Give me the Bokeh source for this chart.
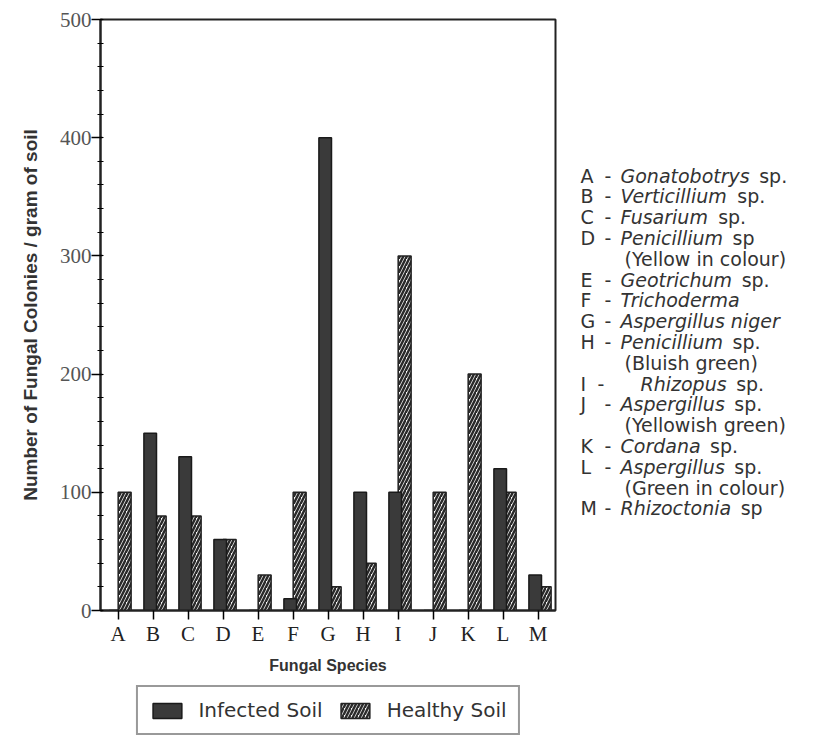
from bokeh.plotting import figure
from bokeh.models import (FactorRange, Range1d, SingleIntervalTicker, Legend,
                          LegendItem, ColumnDataSource)
from bokeh.transform import dodge
from bokeh.layouts import row, column
from bokeh.core.properties import value
from bokeh.embed import file_html
from bokeh.resources import INLINE

# ---------------- data ----------------
categories = list("ABCDEFGHIJKLM")
infected_soil = [0, 150, 130, 60, 0, 10, 400, 100, 100, 0, 0, 120, 30]
healthy_soil = [100, 80, 80, 60, 30, 100, 20, 40, 300, 100, 200, 100, 20]
y_ticks = [0, 100, 200, 300, 400, 500]

species_names = ["Gonatobotrys", "Verticillium", "Fusarium", "Penicillium",
                 "Geotrichum", "Trichoderma", "Aspergillus niger", "Penicillium",
                 "Rhizopus", "Aspergillus", "Cordana", "Aspergillus", "Rhizoctonia"]
species_suffix = ["sp.", "sp.", "sp.", "sp", "sp.", "", "", "sp.", "sp.", "sp.",
                  "sp.", "sp.", "sp"]
species_notes = ["", "", "", "(Yellow in colour)", "", "", "", "(Bluish green)",
                 "", "(Yellowish green)", "", "(Green in colour)", ""]

# ---------------- layout constants ----------------
BL, BR, BT, BB = 100, 13, 19, 72
FRAME_W, FRAME_H = 455, 591
KEY_W = 241
LEG_H = 56

# styles shared by the chart bars and the legend swatches
healthy_style = dict(fill_color="white", line_color="#222222", line_width=1.5,
                     hatch_pattern="/", hatch_color="#2a2a2a", hatch_scale=7,
                     hatch_weight=2.5)
infected_style = dict(fill_color="#3a3a3a", line_color="#1a1a1a", line_width=1.5)

src = ColumnDataSource(dict(cat=categories, infected=infected_soil, healthy=healthy_soil))

p = figure(x_range=FactorRange(factors=categories, range_padding=0),
           y_range=Range1d(0, 500), frame_width=FRAME_W, frame_height=FRAME_H,
           output_backend="svg", toolbar_location=None,
           min_border_left=BL, min_border_right=BR, min_border_top=BT,
           min_border_bottom=BB, background_fill_color="white",
           border_fill_color="white")

rh = p.vbar(x=dodge('cat', 0.19, range=p.x_range), top='healthy', width=0.37,
            source=src, **healthy_style)
ri = p.vbar(x=dodge('cat', -0.08, range=p.x_range), top='infected', width=0.36,
            source=src, **infected_style)

p.xgrid.visible = False
p.ygrid.visible = False
p.outline_line_color = "#222222"
p.outline_line_width = 2

yax = p.yaxis[0]
yax.ticker = SingleIntervalTicker(interval=100, num_minor_ticks=5)
yax.axis_line_width = 2
yax.axis_line_color = "#222222"
yax.major_tick_out = 9
yax.major_tick_in = 2
yax.major_tick_line_width = 1.5
yax.minor_tick_out = 3
yax.minor_tick_in = 3
yax.minor_tick_line_width = 1.2
yax.major_label_text_font = "Liberation Serif"
yax.major_label_text_font_size = "21px"
yax.major_label_text_color = "#555555"
yax.major_label_standoff = 0
yax.axis_label = "Number of Fungal Colonies / gram of soil"
yax.axis_label_text_font = "Liberation Sans"
yax.axis_label_text_font_style = "bold"
yax.axis_label_text_font_size = "19px"
yax.axis_label_text_color = "#333333"
yax.axis_label_standoff = 16

xax = p.xaxis[0]
xax.axis_line_width = 2
xax.axis_line_color = "#222222"
xax.major_tick_out = 9
xax.major_tick_in = 0
xax.major_tick_line_width = 1.5
xax.major_label_text_font = "Liberation Serif"
xax.major_label_text_font_size = "21px"
xax.major_label_text_color = "#222222"
xax.major_label_standoff = 2
xax.axis_label = "Fungal Species"
xax.axis_label_text_font = "Liberation Sans"
xax.axis_label_text_font_style = "bold"
xax.axis_label_text_font_size = "16px"
xax.axis_label_text_color = "#333333"
xax.axis_label_standoff = 8

# ---------------- legend strip below the chart ----------------
# The legend panel re-uses the same data at a tiny scale in the middle of its frame,
# where the opaque legend box covers it, so only the legend swatches show.
lf = figure(frame_width=FRAME_W, frame_height=LEG_H,
            x_range=FactorRange(factors=categories, range_padding=1.0),
            y_range=Range1d(-1100, 1100),
            output_backend="svg", toolbar_location=None,
            min_border_left=BL, min_border_right=BR + KEY_W, min_border_top=0,
            min_border_bottom=0, background_fill_color="white",
            border_fill_color="white")
lf.axis.visible = False
lf.grid.visible = False
lf.outline_line_color = None
li = lf.vbar(x='cat', top='infected', width=0.36, source=src, **infected_style)
lh = lf.vbar(x='cat', top='healthy', width=0.37, source=src, **healthy_style)
legend = Legend(items=[LegendItem(label="Infected Soil", renderers=[li]),
                       LegendItem(label="Healthy Soil", renderers=[lh])],
                orientation="horizontal", location="center",
                label_text_font="DejaVu Sans", label_text_font_size="20px",
                label_text_color="#333333", glyph_width=36, glyph_height=19,
                label_standoff=14, spacing=14, padding=11, margin=0,
                border_line_color="#333333", border_line_width=2,
                background_fill_color="white", background_fill_alpha=1.0)
lf.add_layout(legend, "center")

# ---------------- species key (separate panel, page-pixel coordinates) ----------------
KEY_LEFT = BL + FRAME_W + BR          # page x where the key panel starts
PAGE_TOP, PAGE_BOTTOM = BT, BT + FRAME_H
t = figure(frame_width=KEY_W, frame_height=FRAME_H,
           x_range=Range1d(KEY_LEFT, KEY_LEFT + KEY_W),
           y_range=Range1d(PAGE_BOTTOM, PAGE_TOP),
           output_backend="svg", toolbar_location=None,
           min_border_left=0, min_border_right=0, min_border_top=BT,
           min_border_bottom=BB, background_fill_color="white",
           border_fill_color="white")
t.axis.visible = False
t.grid.visible = False
t.outline_line_color = None

FS = 19
adv = {' ': .318, 'a': .613, 'b': .635, 'c': .550, 'd': .635, 'e': .615, 'f': .352,
       'g': .635, 'h': .634, 'i': .278, 'j': .278, 'k': .579, 'l': .278, 'm': .974,
       'n': .634, 'o': .612, 'p': .635, 'q': .635, 'r': .411, 's': .521, 't': .392,
       'u': .634, 'v': .592, 'w': .818, 'x': .592, 'y': .592, 'z': .525,
       'A': .684, 'C': .698, 'F': .575, 'G': .775, 'P': .603, 'R': .695, 'T': .611,
       'V': .684}

def tw(s):
    return sum(adv.get(ch, .6) for ch in s) * FS

letter_x, dash_x, name_x0 = 580, 604, 620
row_y0, row_dy = 175, 20.8

groups = {k: dict(x=[], y=[], text=[]) for k in ("letter", "dash", "name", "suffix", "note")}
r = 0
for i, letter in enumerate(categories):
    yy = row_y0 + r * row_dy
    groups["letter"]["x"].append(letter_x); groups["letter"]["y"].append(yy)
    groups["letter"]["text"].append(letter)
    groups["dash"]["x"].append(dash_x - (7 if letter == "I" else 0))
    groups["dash"]["y"].append(yy); groups["dash"]["text"].append("-")
    x0 = name_x0 + (20 if letter == "I" else 0)
    groups["name"]["x"].append(x0); groups["name"]["y"].append(yy)
    groups["name"]["text"].append(species_names[i])
    if species_suffix[i]:
        groups["suffix"]["x"].append(x0 + tw(species_names[i]) + 0.5 * FS)
        groups["suffix"]["y"].append(yy)
        groups["suffix"]["text"].append(species_suffix[i])
    r += 1
    if species_notes[i]:
        yy = row_y0 + r * row_dy
        groups["note"]["x"].append(name_x0 + 4); groups["note"]["y"].append(yy)
        groups["note"]["text"].append(species_notes[i])
        r += 1

for key, g in groups.items():
    t.text(x="x", y="y", text="text", source=ColumnDataSource(g),
           text_font=value("DejaVu Sans"), text_font_size=f"{FS}px",
           text_font_style="italic" if key == "name" else "normal",
           text_baseline="middle", text_align="left", text_color="#333333")

layout = column(row(p, t), lf)
open("out.html", "w").write(file_html(layout, INLINE))
